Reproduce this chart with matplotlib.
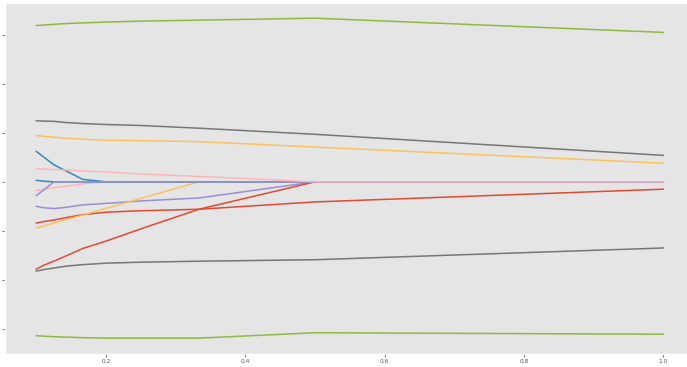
import matplotlib
matplotlib.use("Agg")
import matplotlib.pyplot as plt

plt.style.use("ggplot")

# sample points (x = 1/n)
x = [0.1, 0.1111, 0.125, 0.1429, 0.1667, 0.2, 0.25, 0.3333, 0.5, 1.0]

# first set of paths
red_a    = [-0.84, -0.81, -0.78, -0.73, -0.67, -0.62, -0.59, -0.56, -0.41, -0.15]
blue_a   = [0.62, 0.50, 0.35, 0.22, 0.05, 0.0, 0.0, 0.0, 0.0, 0.0]
purple_a = [-0.50, -0.53, -0.545, -0.52, -0.47, -0.44, -0.39, -0.33, 0.0, 0.0]
gray_a   = [1.245, 1.24, 1.235, 1.21, 1.19, 1.17, 1.15, 1.095, 0.97, 0.54]
yellow_a = [-0.945, -0.90, -0.84, -0.77, -0.68, -0.54, -0.34, 0.0, 0.0, 0.0]
green_a  = [3.19, 3.20, 3.215, 3.23, 3.245, 3.26, 3.28, 3.30, 3.34, 3.05]
pink_a   = [-0.18, -0.15, -0.12, -0.09, -0.04, 0.0, 0.0, 0.0, 0.0, 0.0]

# second set of paths
red_b    = [-1.78, -1.70, -1.62, -1.51, -1.36, -1.21, -0.96, -0.56, 0.0, 0.0]
blue_b   = [0.03, 0.012, 0.0, 0.0, 0.0, 0.0, 0.0, 0.0, 0.0, 0.0]
purple_b = [-0.28, -0.16, 0.0, 0.0, 0.0, 0.0, 0.0, 0.0, 0.0, 0.0]
gray_b   = [-1.82, -1.79, -1.76, -1.72, -1.69, -1.66, -1.64, -1.62, -1.59, -1.35]
yellow_b = [0.945, 0.93, 0.91, 0.89, 0.87, 0.85, 0.84, 0.82, 0.71, 0.38]
green_b  = [-3.14, -3.15, -3.16, -3.17, -3.18, -3.19, -3.19, -3.19, -3.08, -3.11]
pink_b   = [0.265, 0.26, 0.25, 0.24, 0.225, 0.20, 0.16, 0.11, 0.0, 0.0]

series = [red_a, blue_a, purple_a, gray_a, yellow_a, green_a, pink_a,
          red_b, blue_b, purple_b, gray_b, yellow_b, green_b, pink_b]

x_ticks = [0.2, 0.4, 0.6, 0.8, 1.0]
y_ticks = [-3, -2, -1, 0, 1, 2, 3]

fig = plt.figure(figsize=(6.87, 3.67), dpi=100)
ax = fig.add_axes([5 / 687, 12.7 / 367, 689.6 / 687, 351.3 / 367])

for ys in series:
    ax.plot(x, ys, lw=1.1)

ax.grid(False)
ax.set_xlim(0.055, 1.045)
ax.set_ylim(-3.52, 3.65)
ax.set_xticks(x_ticks)
ax.set_xticklabels([f"{t:.1f}" for t in x_ticks])
ax.set_yticks(y_ticks)
ax.set_yticklabels([""] * len(y_ticks))
ax.tick_params(axis="both", length=2, width=0.6, labelsize=4.2,
               colors="#555555", pad=1.5)

fig.savefig("out.png", dpi=100)
